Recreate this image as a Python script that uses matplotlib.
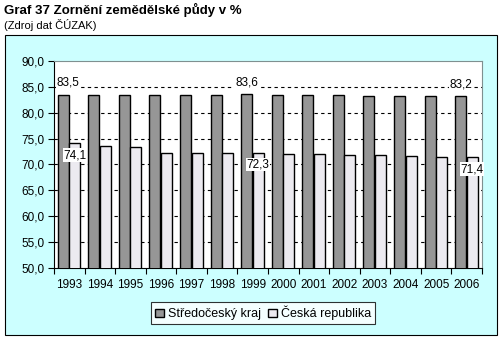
import matplotlib
matplotlib.use("Agg")
from matplotlib import pyplot as plt
from matplotlib.patches import Rectangle
import numpy as np

plt.rcParams['font.family'] = ['Liberation Sans', 'DejaVu Sans']

# data
years = ["1993", "1994", "1995", "1996", "1997", "1998", "1999",
         "2000", "2001", "2002", "2003", "2004", "2005", "2006"]
stredocesky = [83.5, 83.5, 83.4, 83.5, 83.5, 83.5, 83.6,
               83.4, 83.4, 83.4, 83.3, 83.3, 83.3, 83.2]
cr = [74.1, 73.6, 73.4, 72.3, 72.2, 72.3, 72.3,
      72.0, 72.0, 71.8, 71.8, 71.6, 71.5, 71.4]
series_names = ["Středočeský kraj", "Česká republika"]
labelled = [0, 6, 13]  # years with value labels

W, H = 503, 343
fig = plt.figure(figsize=(W / 100, H / 100), dpi=100)
fig.patch.set_facecolor("white")

# cyan chart area with black frame
fig.patches.append(Rectangle((5 / W, 1 - 335 / H), 492 / W, 300 / H,
                             transform=fig.transFigure, facecolor="#CCFFFF",
                             edgecolor="black", linewidth=0.8, zorder=-10))

fig.text(4 / W, 1 - 10 / H, "Graf 37 Zornění zemědělské půdy v %",
         fontsize=9.5, fontweight="bold", va="center", ha="left")
fig.text(4 / W, 1 - 25 / H, "(Zdroj dat ČÚZAK)",
         fontsize=8, va="center", ha="left")

ax = fig.add_axes([54 / W, 1 - 268 / H, 428 / W, 207 / H])
ax.set_facecolor("white")

x = np.arange(len(years))
w = 0.36
b1 = ax.bar(x - 0.2, stredocesky, w, color="#969696", edgecolor="black",
            linewidth=1.0, label=series_names[0], zorder=3)
b2 = ax.bar(x + 0.18, cr, w, color="#ECEAF0", edgecolor="black",
            linewidth=1.0, label=series_names[1], zorder=3)

ax.set_ylim(50, 90)
ax.set_xlim(-0.5, len(years) - 0.5)
yt = np.arange(50, 91, 5)
ax.set_yticks(yt)
ax.set_yticklabels([f"{v:.1f}".replace(".", ",") for v in yt], fontsize=8.5)
ax.set_xticks(np.arange(-0.5, len(years), 1.0))
ax.set_xticklabels([])
ax.set_xticks(x, minor=True)
ax.set_xticklabels(years, minor=True, fontsize=8.5)
ax.tick_params(axis="x", which="minor", length=0, pad=8)
ax.tick_params(axis="x", which="major", length=4, width=0.8, direction="out")
ax.tick_params(axis="y", length=4, width=0.8, direction="out", pad=3)

for v in yt[1:-1]:
    ax.axhline(v, color="black", linewidth=0.8, linestyle=(0, (3, 3)), zorder=1)

for s in ["top", "right"]:
    ax.spines[s].set_color("#7F9090")
    ax.spines[s].set_linewidth(0.8)
for s in ["left", "bottom"]:
    ax.spines[s].set_color("black")
    ax.spines[s].set_linewidth(0.8)

bbox = dict(facecolor="white", edgecolor="none", pad=0.5)
for i in labelled:
    dx = 0.15 if i == 0 else 0.0
    ax.text(x[i] - 0.2 + dx, stredocesky[i] + 2.3, f"{stredocesky[i]:.1f}".replace(".", ","),
            fontsize=8.5, ha="center", va="center", bbox=bbox, zorder=5)
    ax.text(x[i] + 0.18, cr[i] - 2.3, f"{cr[i]:.1f}".replace(".", ","),
            fontsize=8.5, ha="center", va="center", bbox=bbox, zorder=5)

leg = fig.legend(handles=[b1, b2], labels=series_names, ncol=2,
                 loc="center", bbox_to_anchor=(263 / W, 1 - 313 / H),
                 fontsize=9, frameon=True, fancybox=False,
                 handlelength=0.7, handleheight=0.7, handletextpad=0.3,
                 columnspacing=0.6, borderpad=0.3, borderaxespad=0)
leg.get_frame().set_edgecolor("black")
leg.get_frame().set_linewidth(0.8)

fig.savefig("out.png", dpi=100)
